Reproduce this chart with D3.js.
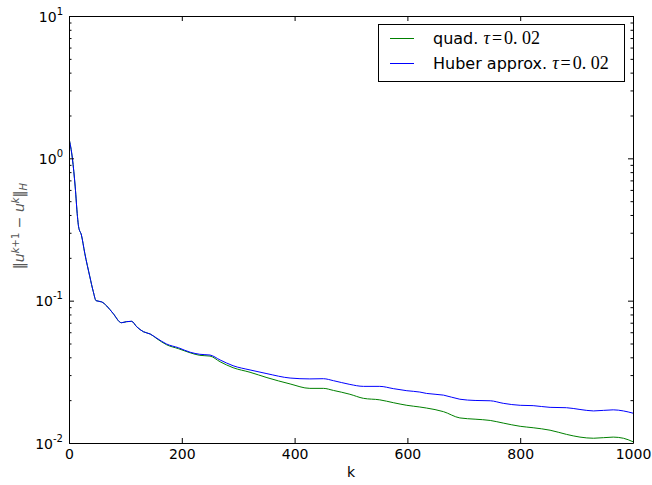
<!DOCTYPE html>
<html>
<head>
<meta charset="utf-8">
<script src="https://cdnjs.cloudflare.com/ajax/libs/d3/7.8.5/d3.min.js"></script>
<style>
  body { margin: 0; background: #fff; }
  svg { display: block; }
  text { font-family: "DejaVu Sans", sans-serif; }
</style>
</head>
<body>
<div class="graph"></div>
<script>
var iterations = [0, 6, 11, 15, 17, 22, 28, 37, 43, 48, 58, 67, 78, 93, 102, 111, 120, 132, 144, 156, 173, 194, 215, 232, 250, 268, 291, 321, 351, 392, 427, 451, 469, 498, 522, 551, 575, 599, 622, 634, 664, 693, 720, 747, 770, 800, 823, 853, 882, 906, 930, 965, 983, 1000]

var huber = [1.38, 1.0, 0.63, 0.39, 0.331, 0.289, 0.215, 0.147, 0.116, 0.100, 0.098, 0.0917, 0.0815, 0.0700, 0.0712, 0.0716, 0.0656, 0.0605, 0.0583, 0.0544, 0.0496, 0.0467, 0.0434, 0.0420, 0.0415, 0.0383, 0.0349, 0.0326, 0.0307, 0.0286, 0.0282, 0.0283, 0.0274, 0.0258, 0.0250, 0.0250, 0.0241, 0.0233, 0.0228, 0.0223, 0.0217, 0.0203, 0.0199, 0.0198, 0.0190, 0.0184, 0.0183, 0.0178, 0.0177, 0.0172, 0.0168, 0.0171, 0.0168, 0.0162]

var quad = [1.38, 1.0, 0.63, 0.39, 0.331, 0.289, 0.215, 0.147, 0.116, 0.100, 0.098, 0.0917, 0.0815, 0.0700, 0.0712, 0.0716, 0.0656, 0.0605, 0.0583, 0.0540, 0.0490, 0.0460, 0.0430, 0.0413, 0.0408, 0.0372, 0.0338, 0.0314, 0.0288, 0.0260, 0.0242, 0.0242, 0.0234, 0.0220, 0.0206, 0.0201, 0.0192, 0.0184, 0.0179, 0.0176, 0.0166, 0.0150, 0.0147, 0.0144, 0.0138, 0.0131, 0.0128, 0.0123, 0.0115, 0.0110, 0.0108, 0.0110, 0.0108, 0.0102]

var xTicks = [0, 200, 400, 600, 800, 1000]
var yDecades = [0.01, 0.1, 1, 10]
var yExponents = ["-2", "-1", "0", "1"]

var seriesNames = ["quad. ", "Huber approx. "]
var seriesColors = ["#008000", "#0000ff"]
var seriesValues = [quad, huber]

var w = 652
var h = 485
var pLeft = 69, pRight = 633, pTop = 16, pBottom = 443

var svg = d3.select('.graph')
  .append("svg")
  .attr("width", w)
  .attr("height", h)

var x = d3.scaleLinear().domain([0, 1000]).range([pLeft, pRight])
var y = d3.scaleLog().domain([0.01, 10]).range([pBottom, pTop])

svg.append("clipPath").attr("id", "clip")
  .append("rect")
  .attr("x", pLeft).attr("y", pTop)
  .attr("width", pRight - pLeft).attr("height", pBottom - pTop)

var line = d3.line()
  .x(function(d){ return x(d[0]) })
  .y(function(d){ return y(d[1]) })
  .curve(d3.curveMonotoneX)

for(var s = 0; s < seriesValues.length; s++){
  var pts = iterations.map(function(k, i){ return [k, seriesValues[s][i]] })
  svg.append("path")
    .attr("clip-path", "url(#clip)")
    .attr("d", line(pts))
    .attr("fill", "none")
    .attr("stroke", seriesColors[s])
    .attr("stroke-width", 1)
}

var minor = y.ticks().filter(function(v){ return yDecades.indexOf(v) < 0 })

// x axes (bottom with labels, top ticks only)
var gx = svg.append("g")
  .attr("transform", "translate(0," + pBottom + ")")
  .call(d3.axisBottom(x).tickValues(xTicks).tickSize(-5).tickSizeOuter(0).tickPadding(6).tickFormat(d3.format("d")))
gx.selectAll("text").attr("font-size", 14).attr("font-family", "DejaVu Sans").attr("fill", "#000")

svg.append("g")
  .attr("transform", "translate(0," + pTop + ")")
  .call(d3.axisTop(x).tickValues(xTicks).tickSize(-5).tickSizeOuter(0).tickFormat(""))

// y axes
svg.append("g")
  .attr("transform", "translate(" + pLeft + ",0)")
  .call(d3.axisLeft(y).tickValues(yDecades).tickSize(-5).tickSizeOuter(0).tickFormat(""))

svg.append("g")
  .attr("transform", "translate(" + pLeft + ",0)")
  .call(d3.axisLeft(y).tickValues(minor).tickSize(-2.5).tickSizeOuter(0).tickFormat(""))
  .select(".domain").remove()

svg.append("g")
  .attr("transform", "translate(" + pRight + ",0)")
  .call(d3.axisRight(y).tickValues(yDecades).tickSize(-5).tickSizeOuter(0).tickFormat(""))

svg.append("g")
  .attr("transform", "translate(" + pRight + ",0)")
  .call(d3.axisRight(y).tickValues(minor).tickSize(-2.5).tickSizeOuter(0).tickFormat(""))
  .select(".domain").remove()

svg.selectAll(".domain").attr("stroke", "#000").attr("stroke-width", 1)
svg.selectAll(".tick line").attr("stroke", "#000")

// decade labels 10^n
var lab = svg.selectAll(".ylab")
  .data(yDecades)
  .enter()
  .append("text")
  .attr("class", "ylab")
  .attr("x", pLeft - 6)
  .attr("y", function(d){ return y(d) + 5.5 })
  .attr("text-anchor", "end")
  .attr("font-size", 14)
  .attr("fill", "#000")
lab.append("tspan").text("10")
lab.append("tspan")
  .attr("dy", -7)
  .attr("font-size", 10)
  .text(function(d, i){ return yExponents[i] })

svg.append("text")
  .attr("x", (pLeft + pRight) / 2)
  .attr("y", 477)
  .attr("text-anchor", "middle")
  .attr("font-size", 14)
  .attr("fill", "#000")
  .text("k")

// y label ||u^{k+1} - u^k||_H
var yl = svg.append("text")
  .attr("transform", "translate(24,226) rotate(-90)")
  .attr("text-anchor", "middle")
  .attr("font-family", "Liberation Serif, serif")
  .attr("font-size", 14)
  .attr("fill", "#555")
yl.append("tspan").text("\u2016")
yl.append("tspan").attr("font-style", "italic").text("u")
yl.append("tspan").attr("dy", -5).attr("font-size", 10).attr("font-style", "italic").text("k")
yl.append("tspan").attr("font-size", 10).text("+1")
yl.append("tspan").attr("dy", 5).text(" \u2212 ")
yl.append("tspan").attr("font-style", "italic").text("u")
yl.append("tspan").attr("dy", -5).attr("font-size", 10).attr("font-style", "italic").text("k")
yl.append("tspan").attr("dy", 5).text("\u2016")
yl.append("tspan").attr("dy", 3).attr("font-size", 10).attr("font-style", "italic").text("H")

// legend
svg.append("rect")
  .attr("x", 378.5).attr("y", 24.5)
  .attr("width", 246).attr("height", 57)
  .attr("fill", "#fff")
  .attr("stroke", "#000")
  .attr("stroke-width", 1)

var rowY = [38.5, 63.5]
for(var r = 0; r < seriesNames.length; r++){
  svg.append("line")
    .attr("x1", 390).attr("x2", 414)
    .attr("y1", rowY[r]).attr("y2", rowY[r])
    .attr("stroke", seriesColors[r])
    .attr("stroke-width", 1)
  var t = svg.append("text")
    .attr("x", 433)
    .attr("y", rowY[r] + 5.5)
    .attr("font-size", 16)
    .attr("fill", "#000")
  t.append("tspan").text(seriesNames[r])
  t.append("tspan").attr("font-family", "Liberation Serif, serif").attr("font-style", "italic").attr("font-size", 18).text("\u03c4")
  t.append("tspan").attr("font-family", "Liberation Serif, serif").attr("font-size", 18).attr("dx", 2).text("=")
  t.append("tspan").attr("font-family", "Liberation Serif, serif").attr("font-size", 18).attr("dx", 2).text("0. 02")
}
</script>
</body>
</html>
